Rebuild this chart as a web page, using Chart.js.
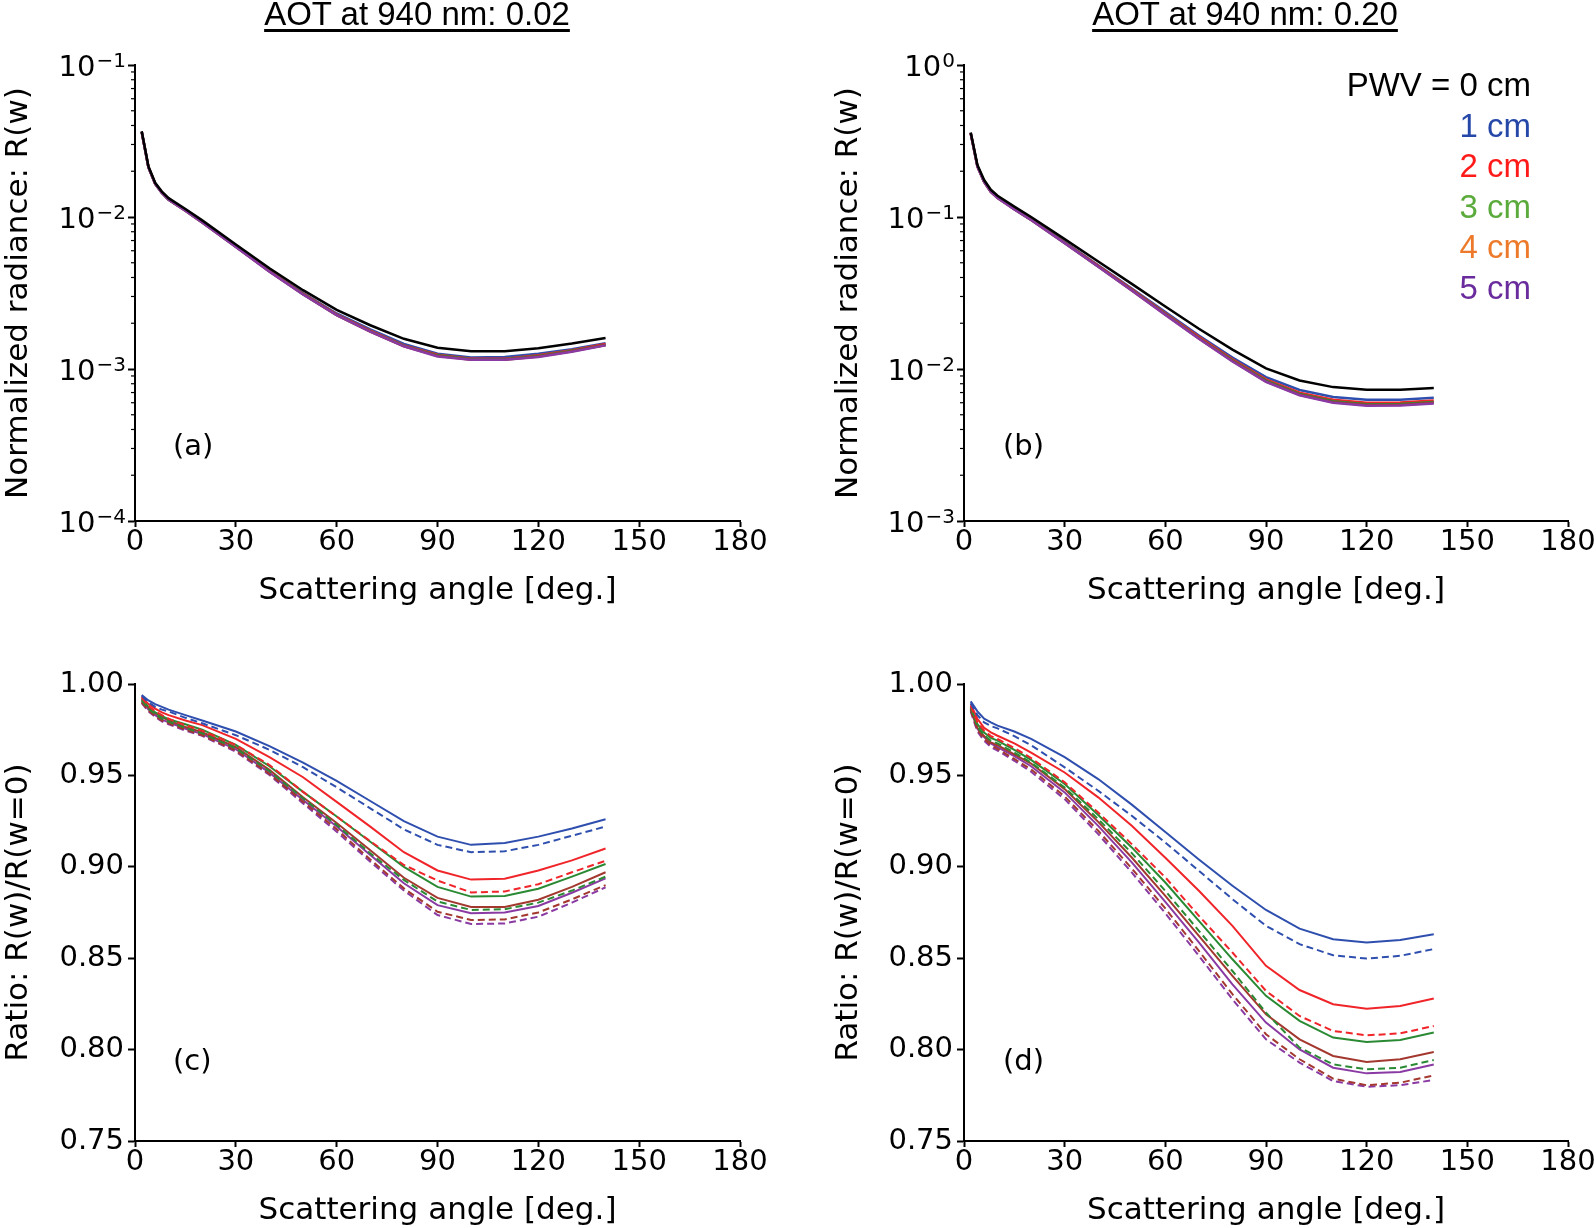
<!DOCTYPE html>
<html>
<head>
<meta charset="utf-8">
<script src="https://cdn.jsdelivr.net/npm/chart.js"></script>
<style>
  body { margin: 0; background: #fff; }
  #fig { position: relative; width: 1596px; height: 1228px; overflow: hidden; }
  canvas { position: absolute; }
  .title { position: absolute; top: -5px; font-family: "Liberation Sans", Arial, sans-serif; font-size: 33px;
           text-decoration: underline; text-decoration-thickness: 3px; text-underline-offset: 4px;
           transform: translateX(-50%); white-space: nowrap; color: #000; }
  .panel { position: absolute; font-family: "DejaVu Sans", sans-serif; font-size: 29px; color: #000; }
  #legend { position: absolute; right: 65px; top: 65px; text-align: right; font-family: "Liberation Sans", Arial, sans-serif;
            font-size: 33px; line-height: 40.5px; }
</style>
</head>
<body>
<div id="fig">
  <canvas id="chartA" width="800" height="620" style="left:0;top:0"></canvas>
  <canvas id="chartB" width="796" height="620" style="left:800px;top:0"></canvas>
  <canvas id="chartC" width="800" height="611" style="left:0;top:620px"></canvas>
  <canvas id="chartD" width="796" height="611" style="left:800px;top:620px"></canvas>

  <div class="title" style="left:417px">AOT at 940 nm: 0.02</div>
  <div class="title" style="left:1245px">AOT at 940 nm: 0.20</div>

  <div id="legend">
    <div style="color:#000">PWV = 0 cm</div>
    <div style="color:#2547a8">1 cm</div>
    <div style="color:#ff1a1a">2 cm</div>
    <div style="color:#5aab3c">3 cm</div>
    <div style="color:#ec7a2a">4 cm</div>
    <div style="color:#6a2c9c">5 cm</div>
  </div>

  <div class="panel" style="left:173px;top:428px">(a)</div>
  <div class="panel" style="left:1003px;top:428px">(b)</div>
  <div class="panel" style="left:173px;top:1043px">(c)</div>
  <div class="panel" style="left:1003px;top:1043px">(d)</div>
</div>

<script>
// scattering angles (deg)
const angles = [2, 4, 6, 8, 10, 15, 20, 30, 40, 50, 60, 70, 80, 90, 100, 110, 120, 130, 140];

// (a) radiance, AOT 0.02
const aBlack  = [0.0366, 0.0215, 0.0168, 0.0147, 0.0133, 0.0113, 0.0095, 0.0066, 0.0046, 0.0033, 0.00245, 0.00194, 0.00158, 0.00138, 0.00131, 0.00131, 0.00137, 0.00147, 0.0016];
const aBlue   = [0.0364, 0.0213, 0.0166, 0.0145, 0.0131, 0.0111, 0.0093, 0.00643, 0.00444, 0.00316, 0.00232, 0.00182, 0.00146, 0.00126, 0.00119, 0.0012, 0.00126, 0.00135, 0.00148];
const aRed    = [0.0363, 0.0213, 0.0166, 0.0145, 0.0131, 0.0111, 0.0093, 0.0064, 0.00442, 0.00313, 0.00229, 0.00179, 0.00143, 0.00124, 0.00117, 0.00117, 0.00123, 0.00133, 0.00146];
const aGreen  = [0.0363, 0.0212, 0.0165, 0.0144, 0.013, 0.011, 0.0092, 0.00638, 0.00439, 0.00311, 0.00227, 0.00177, 0.00142, 0.00123, 0.00116, 0.00116, 0.00122, 0.00132, 0.00144];
const aBrown  = [0.0363, 0.0212, 0.0165, 0.0144, 0.013, 0.011, 0.0092, 0.00637, 0.00438, 0.0031, 0.00226, 0.00176, 0.00141, 0.00122, 0.00115, 0.00115, 0.00121, 0.00131, 0.00144];
const aPurple = [0.0362, 0.0212, 0.0165, 0.0144, 0.013, 0.011, 0.0092, 0.00636, 0.00437, 0.00309, 0.00226, 0.00176, 0.00141, 0.00121, 0.00115, 0.00115, 0.0012, 0.0013, 0.00143];

// (b) radiance, AOT 0.20
const bBlack  = [0.36, 0.22, 0.175, 0.151, 0.138, 0.117, 0.1, 0.0715, 0.051, 0.0363, 0.0258, 0.0184, 0.0134, 0.0101, 0.0084, 0.0076, 0.0073, 0.0073, 0.0075];
const bBlue   = [0.3566, 0.2167, 0.1717, 0.1478, 0.1349, 0.1137, 0.0968, 0.0684, 0.0482, 0.0339, 0.0237, 0.0166, 0.0119, 0.00885, 0.00728, 0.00654, 0.00627, 0.00628, 0.00647];
const bRed    = [0.356, 0.2158, 0.1708, 0.147, 0.1341, 0.1131, 0.0962, 0.068, 0.0478, 0.0335, 0.0233, 0.0163, 0.0116, 0.00854, 0.00699, 0.00627, 0.006, 0.00601, 0.00621];
const bGreen  = [0.3555, 0.2152, 0.1704, 0.1465, 0.1337, 0.1127, 0.0958, 0.0676, 0.0473, 0.0331, 0.023, 0.016, 0.0114, 0.00838, 0.00685, 0.00613, 0.00587, 0.00588, 0.00607];
const bBrown  = [0.3551, 0.2147, 0.17, 0.1462, 0.1334, 0.1124, 0.0956, 0.0674, 0.0472, 0.0329, 0.0228, 0.0159, 0.0113, 0.00827, 0.00677, 0.00605, 0.00579, 0.0058, 0.00599];
const bPurple = [0.355, 0.2146, 0.17, 0.146, 0.1332, 0.1122, 0.0955, 0.0673, 0.047, 0.0328, 0.0227, 0.0158, 0.0112, 0.00823, 0.00672, 0.006, 0.00574, 0.00575, 0.00594];

// (c) ratio, AOT 0.02  (solid / dashed)
const cBlue    = [0.994, 0.991, 0.989, 0.9875, 0.986, 0.983, 0.98, 0.974, 0.966, 0.957, 0.947, 0.936, 0.925, 0.9165, 0.912, 0.913, 0.9165, 0.921, 0.926];
const cBlueD   = [0.9935, 0.99, 0.9875, 0.986, 0.985, 0.9815, 0.9785, 0.972, 0.964, 0.9545, 0.9435, 0.932, 0.9205, 0.912, 0.908, 0.9085, 0.912, 0.917, 0.922];
const cRed     = [0.993, 0.989, 0.9865, 0.9845, 0.983, 0.98, 0.9775, 0.97, 0.96, 0.949, 0.9355, 0.922, 0.908, 0.898, 0.893, 0.8935, 0.898, 0.9035, 0.91];
const cRedD    = [0.9925, 0.988, 0.985, 0.983, 0.981, 0.9775, 0.9745, 0.9667, 0.9557, 0.941, 0.9275, 0.914, 0.901, 0.8925, 0.886, 0.8865, 0.8905, 0.897, 0.9033];
const cGreen   = [0.992, 0.9875, 0.9845, 0.9825, 0.9807, 0.978, 0.975, 0.9667, 0.955, 0.941, 0.9275, 0.9137, 0.9, 0.889, 0.8837, 0.884, 0.888, 0.8946, 0.9015];
const cGreenD  = [0.991, 0.9865, 0.9835, 0.981, 0.9794, 0.976, 0.973, 0.9648, 0.9524, 0.9375, 0.9229, 0.9074, 0.8928, 0.881, 0.8764, 0.8768, 0.8804, 0.887, 0.8946];
const cBrown   = [0.9915, 0.987, 0.984, 0.982, 0.98, 0.9765, 0.9736, 0.9654, 0.953, 0.938, 0.924, 0.909, 0.894, 0.883, 0.878, 0.878, 0.882, 0.889, 0.897];
const cBrownD  = [0.99, 0.9855, 0.9825, 0.98, 0.9785, 0.975, 0.972, 0.9635, 0.9508, 0.9356, 0.9205, 0.904, 0.8882, 0.8754, 0.8709, 0.8712, 0.875, 0.8822, 0.89];
const cPurple  = [0.9905, 0.986, 0.983, 0.9805, 0.979, 0.9755, 0.9726, 0.9643, 0.9515, 0.9365, 0.922, 0.9065, 0.891, 0.879, 0.8746, 0.875, 0.8786, 0.8858, 0.8937];
const cPurpleD = [0.9895, 0.985, 0.982, 0.9795, 0.978, 0.9745, 0.9716, 0.963, 0.9502, 0.9347, 0.9192, 0.9028, 0.887, 0.8736, 0.8687, 0.869, 0.8727, 0.8804, 0.8888];

// (d) ratio, AOT 0.20
const dBlue    = [0.9905, 0.985, 0.981, 0.979, 0.9772, 0.974, 0.97, 0.96, 0.948, 0.934, 0.919, 0.904, 0.8896, 0.8764, 0.8662, 0.8604, 0.8586, 0.86, 0.8631];
const dBlueD   = [0.9895, 0.983, 0.979, 0.977, 0.9757, 0.9715, 0.9665, 0.9544, 0.9416, 0.9279, 0.9133, 0.8978, 0.8823, 0.8677, 0.8577, 0.8516, 0.8498, 0.8513, 0.855];
const dRed     = [0.989, 0.981, 0.976, 0.9735, 0.9717, 0.9675, 0.9625, 0.9516, 0.938, 0.9224, 0.905, 0.8869, 0.8677, 0.8458, 0.8326, 0.8248, 0.8224, 0.8238, 0.828];
const dRedD    = [0.988, 0.979, 0.9745, 0.9715, 0.9699, 0.965, 0.9595, 0.9462, 0.9297, 0.9124, 0.8942, 0.8732, 0.8531, 0.8321, 0.8184, 0.8102, 0.8078, 0.8089, 0.8129];
const dGreen   = [0.9875, 0.978, 0.9735, 0.9705, 0.969, 0.964, 0.9585, 0.9453, 0.9283, 0.9106, 0.8914, 0.8704, 0.8494, 0.8294, 0.8157, 0.8066, 0.8042, 0.8053, 0.8093];
const dGreenD  = [0.987, 0.9765, 0.972, 0.969, 0.9675, 0.9625, 0.957, 0.9434, 0.9261, 0.9075, 0.8868, 0.865, 0.843, 0.8202, 0.8011, 0.7919, 0.7892, 0.7901, 0.7943];
const dBrown   = [0.9865, 0.976, 0.9715, 0.968, 0.9665, 0.9615, 0.9565, 0.9425, 0.9246, 0.9051, 0.8841, 0.8622, 0.8403, 0.8193, 0.8056, 0.7965, 0.7932, 0.7947, 0.7987];
const dBrownD  = [0.9855, 0.975, 0.97, 0.9665, 0.9645, 0.959, 0.9533, 0.9385, 0.9197, 0.8991, 0.8772, 0.854, 0.8303, 0.8084, 0.7947, 0.7841, 0.7805, 0.7819, 0.7859];
const dPurple  = [0.986, 0.9755, 0.971, 0.9675, 0.9655, 0.9605, 0.955, 0.9407, 0.9224, 0.9024, 0.8808, 0.8586, 0.8357, 0.8148, 0.8001, 0.7901, 0.787, 0.7877, 0.7919];
const dPurpleD = [0.985, 0.974, 0.969, 0.9655, 0.9636, 0.958, 0.952, 0.937, 0.9179, 0.8969, 0.8746, 0.8513, 0.8275, 0.8056, 0.7929, 0.7828, 0.7797, 0.7805, 0.7834];

const ratioTicks = [0.75, 0.8, 0.85, 0.9, 0.95, 1.0];

const BLACK = '#000000', BLUE = '#2f4fae', RED = '#f0252a', GREEN = '#2a8a34', BROWN = '#a3382f', PURPLE = '#8a3aa3';
const FONT = 'DejaVu Sans';

function line(vals, color, dashed, width) {
    return {
        data: vals.map((v, i) => ({ x: angles[i], y: v })),
        borderColor: color,
        borderWidth: width || 2,
        borderDash: dashed ? [7, 4] : [],
        pointRadius: 0,
        fill: false,
        tension: 0
    };
}

// log axes: "10" plus a raised exponent, and small minor ticks
const logDecor = {
    id: 'logDecor',
    afterDraw(chart) {
        const s = chart.scales.y;
        if (s.type !== 'logarithmic') return;
        const ctx = chart.ctx;
        ctx.save();
        ctx.strokeStyle = '#000';
        ctx.fillStyle = '#000';
        ctx.lineWidth = 1.2;
        const e0 = Math.round(Math.log10(s.min)), e1 = Math.round(Math.log10(s.max));
        for (let e = e0; e < e1; e++) {
            for (let k = 2; k <= 9; k++) {
                const y = s.getPixelForValue(k * Math.pow(10, e));
                ctx.beginPath();
                ctx.moveTo(s.right - 4, y);
                ctx.lineTo(s.right, y);
                ctx.stroke();
            }
        }
        ctx.textAlign = 'right';
        ctx.textBaseline = 'alphabetic';
        for (let e = e0; e <= e1; e++) {
            const y = s.getPixelForValue(Math.pow(10, e));
            const exp = e < 0 ? '\u2212' + Math.abs(e) : String(e);
            ctx.font = '20px "' + FONT + '"';
            const xr = s.right - 9;
            ctx.fillText(exp, xr, y + 2);
            const w = ctx.measureText(exp).width;
            ctx.font = '29px "' + FONT + '"';
            ctx.fillText('10', xr - w - 1, y + 10.5);
        }
        ctx.restore();
    }
};

function xAxis() {
    return {
        type: 'linear', min: 0, max: 180,
        ticks: { stepSize: 30, color: '#000', font: { family: FONT, size: 29 }, padding: -2, maxRotation: 0, autoSkip: false },
        grid: { drawOnChartArea: false, drawTicks: true, tickLength: 6, tickColor: '#000', tickWidth: 2 },
        border: { display: true, color: '#000', width: 2 },
        title: { display: true, text: 'Scattering angle [deg.]', color: '#000', font: { family: FONT, size: 31 }, padding: 0 },
        afterFit: s => { s.height = 89; }
    };
}

function logAxis(lo, hi, width) {
    return {
        type: 'logarithmic', min: lo, max: hi,
        afterBuildTicks: s => {
            const t = [];
            for (let e = Math.round(Math.log10(lo)); e <= Math.round(Math.log10(hi)); e++) t.push({ value: Math.pow(10, e), major: true });
            s.ticks = t;
        },
        ticks: { color: '#000', font: { family: FONT, size: 29 }, padding: 4, callback: () => '' },
        grid: { drawOnChartArea: false, drawTicks: true, tickLength: 7, tickColor: '#000', tickWidth: 2 },
        border: { display: true, color: '#000', width: 2 },
        title: { display: true, text: 'Normalized radiance: R(w)', color: '#000', font: { family: FONT, size: 31 }, padding: 0 },
        afterFit: s => { s.width = width; }
    };
}

function ratioAxis(width) {
    return {
        type: 'linear', min: 0.75, max: 1.0,
        afterBuildTicks: s => { s.ticks = ratioTicks.map(v => ({ value: v })); },
        ticks: { color: '#000', font: { family: FONT, size: 29 }, padding: 4, callback: v => v.toFixed(2) },
        grid: { drawOnChartArea: false, drawTicks: true, tickLength: 7, tickColor: '#000', tickWidth: 2 },
        border: { display: true, color: '#000', width: 2 },
        title: { display: true, text: 'Ratio: R(w)/R(w=0)', color: '#000', font: { family: FONT, size: 31 }, padding: 0 },
        afterFit: s => { s.width = width; }
    };
}

function makeChart(id, datasets, yAxis, padding) {
    return new Chart(document.getElementById(id), {
        type: 'line',
        data: { datasets: datasets },
        options: {
            responsive: false,
            animation: false,
            layout: { padding: padding },
            plugins: { legend: { display: false }, tooltip: { enabled: false } },
            scales: { x: xAxis(), y: yAxis }
        },
        plugins: [logDecor]
    });
}

// first dataset is drawn on top
makeChart('chartA', [
    line(aBlack, BLACK, false, 2.5),
    line(aPurple, PURPLE, false, 2.5),
    line(aBrown, BROWN, false, 2.5),
    line(aGreen, GREEN, false, 2.5),
    line(aRed, RED, false, 2.5),
    line(aBlue, BLUE, false, 2.5)
], logAxis(1e-4, 1e-1, 135), { left: 0, top: 65, right: 60, bottom: 10 });

makeChart('chartB', [
    line(bBlack, BLACK, false, 2.5),
    line(bPurple, PURPLE, false, 2.5),
    line(bBrown, BROWN, false, 2.5),
    line(bGreen, GREEN, false, 2.5),
    line(bRed, RED, false, 2.5),
    line(bBlue, BLUE, false, 2.5)
], logAxis(1e-3, 1e0, 134), { left: 30, top: 65, right: 28, bottom: 10 });

makeChart('chartC', [
    line(cBlue, BLUE), line(cBlueD, BLUE, true),
    line(cRed, RED), line(cRedD, RED, true),
    line(cGreen, GREEN), line(cGreenD, GREEN, true),
    line(cBrown, BROWN), line(cBrownD, BROWN, true),
    line(cPurple, PURPLE), line(cPurpleD, PURPLE, true)
], ratioAxis(135), { left: 0, top: 64, right: 60, bottom: 1 });

makeChart('chartD', [
    line(dBlue, BLUE), line(dBlueD, BLUE, true),
    line(dRed, RED), line(dRedD, RED, true),
    line(dGreen, GREEN), line(dGreenD, GREEN, true),
    line(dBrown, BROWN), line(dBrownD, BROWN, true),
    line(dPurple, PURPLE), line(dPurpleD, PURPLE, true)
], ratioAxis(134), { left: 30, top: 64, right: 28, bottom: 1 });
</script>
</body>
</html>
